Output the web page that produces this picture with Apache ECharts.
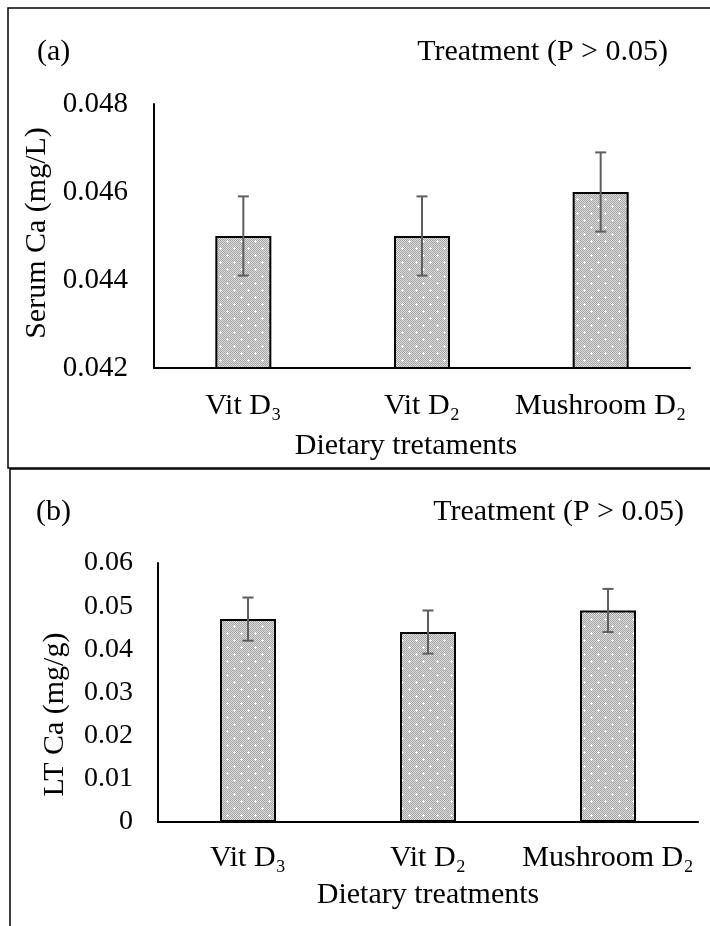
<!DOCTYPE html>
<html>
<head>
<meta charset="utf-8">
<script src="https://cdn.jsdelivr.net/npm/echarts@6/dist/echarts.min.js"></script>
<style>
html,body{margin:0;padding:0;background:#fff;}
#chart{width:710px;height:926px;}
</style>
</head>
<body>
<div id="chart"></div>
<script>
// ---- data ----
const categories = ['Vit D₃', 'Vit D₂', 'Mushroom D₂'];
const serumCa = [0.045, 0.045, 0.046];
const serumCaErr = [0.0009, 0.0009, 0.0009];
const ltCa = [0.047, 0.044, 0.049];
const ltCaErr = [0.005, 0.005, 0.005];
const serumAxis = { min: 0.042, max: 0.048, interval: 0.002 };
const ltAxis = { min: 0, max: 0.06, interval: 0.01 };
const panelLabels = ['(a)', '(b)'];
const significance = 'Treatment (P > 0.05)';
const yNames = ['Serum Ca (mg/L)', 'LT Ca (mg/g)'];
const xNames = ['Dietary tretaments', 'Dietary treatments'];

// ---- styling ----
const FONT = "'Liberation Serif','Times New Roman',serif";

function makePattern() {
  const c = document.createElement('canvas');
  c.width = 14; c.height = 14;
  const ctx = c.getContext('2d');
  for (let y = 0; y < 14; y++) {
    for (let x = 0; x < 14; x++) {
      ctx.fillStyle = ((x + y) % 2 === 0) ? '#a4a4a4' : '#dedede';
      ctx.fillRect(x, y, 1, 1);
    }
  }
  ctx.fillStyle = '#ffffff';
  [[3, 3], [10, 10]].forEach(([px, py]) => {
    ctx.fillRect(px - 1, py, 3, 1);
    ctx.fillRect(px, py - 1, 1, 3);
  });
  return c;
}
const pattern = { image: makePattern(), repeat: 'repeat' };

function errData(vals, errs) {
  return vals.map((v, i) => [i, v - errs[i], v + errs[i]]);
}

function errRender(params, api) {
  const x = api.value(0);
  const lo = api.coord([x, api.value(1)]);
  const hi = api.coord([x, api.value(2)]);
  const hw = 5.5;
  const st = { stroke: '#5e5e5e', lineWidth: 2 };
  return {
    type: 'group',
    children: [
      { type: 'line', shape: { x1: hi[0], y1: hi[1], x2: lo[0], y2: lo[1] }, style: st },
      { type: 'line', shape: { x1: hi[0] - hw, y1: hi[1], x2: hi[0] + hw, y2: hi[1] }, style: st },
      { type: 'line', shape: { x1: lo[0] - hw, y1: lo[1], x2: lo[0] + hw, y2: lo[1] }, style: st }
    ]
  };
}

const chart = echarts.init(document.getElementById('chart'), null, { renderer: 'canvas' });

const textBase = { fontFamily: FONT, color: '#000' };

function xAxisCfg(gridIndex, labelMargin, nameGap, namePad, fs) {
  return {
    type: 'category', gridIndex, data: categories,
    axisLine: { show: true, lineStyle: { color: '#000', width: 2.2 } },
    axisTick: { show: false },
    axisLabel: Object.assign({}, textBase, { fontSize: fs, margin: labelMargin, interval: 0 }),
    name: xNames[gridIndex], nameLocation: 'middle', nameGap,
    nameTextStyle: Object.assign({}, textBase, { fontSize: fs, padding: namePad })
  };
}
function yAxisCfg(gridIndex, ax, digits, nameGap, labelMargin, fs, nameFs, namePad) {
  return {
    type: 'value', gridIndex, min: ax.min, max: ax.max, interval: ax.interval,
    axisLine: { show: true, lineStyle: { color: '#000', width: 2 } },
    axisTick: { show: false },
    splitLine: { show: false },
    axisLabel: Object.assign({}, textBase, {
      fontSize: fs, margin: labelMargin,
      formatter: v => (Math.abs(v) < 1e-12 ? '0' : v.toFixed(digits))
    }),
    name: yNames[gridIndex], nameLocation: 'middle', nameGap, nameRotate: 90,
    nameTextStyle: Object.assign({}, textBase, { fontSize: nameFs, padding: namePad })
  };
}

const barItem = { color: pattern, borderColor: '#000', borderWidth: 2 };

const option = {
  backgroundColor: '#fff',
  animation: false,
  grid: [
    { left: 154, right: 20, top: 104, bottom: 558 },
    { left: 158, right: 12, top: 563, bottom: 104 }
  ],
  xAxis: [
    xAxisCfg(0, 23, 63, [0, 32, 0, 0], 30),
    xAxisCfg(1, 21, 58, [0, 0, 0, 0], 30)
  ],
  yAxis: [
    yAxisCfg(0, serumAxis, 3, 101, 26, 29, 30, [0, 0, 0, 6]),
    yAxisCfg(1, ltAxis, 2, 88, 25, 28, 30, [0, 44, 0, 0])
  ],
  series: [
    { type: 'bar', xAxisIndex: 0, yAxisIndex: 0, data: serumCa, barWidth: 56, itemStyle: barItem, silent: true },
    { type: 'custom', xAxisIndex: 0, yAxisIndex: 0, data: errData(serumCa, serumCaErr), renderItem: errRender, encode: { x: 0, y: [1, 2] }, z: 5, silent: true },
    { type: 'bar', xAxisIndex: 1, yAxisIndex: 1, data: ltCa, barWidth: 56, itemStyle: barItem, silent: true },
    { type: 'custom', xAxisIndex: 1, yAxisIndex: 1, data: errData(ltCa, ltCaErr), renderItem: errRender, encode: { x: 0, y: [1, 2] }, z: 5, silent: true }
  ],
  graphic: [
    { type: 'rect', shape: { x: 8, y: 8, width: 720, height: 460 }, style: { fill: 'none', stroke: '#000', lineWidth: 1.5 }, silent: true, z: -1 },
    { type: 'rect', shape: { x: 10, y: 469, width: 720, height: 480 }, style: { fill: 'none', stroke: '#000', lineWidth: 1.5 }, silent: true, z: -1 },
    { type: 'text', left: 37, top: 37, style: { text: panelLabels[0], font: '30px ' + FONT, fill: '#000' } },
    { type: 'text', right: 42, top: 37, style: { text: significance, font: '30px ' + FONT, fill: '#000' } },
    { type: 'text', left: 36, top: 497, style: { text: panelLabels[1], font: '30px ' + FONT, fill: '#000' } },
    { type: 'text', right: 26, top: 497, style: { text: significance, font: '30px ' + FONT, fill: '#000' } }
  ]
};
chart.setOption(option);
</script>
</body>
</html>
